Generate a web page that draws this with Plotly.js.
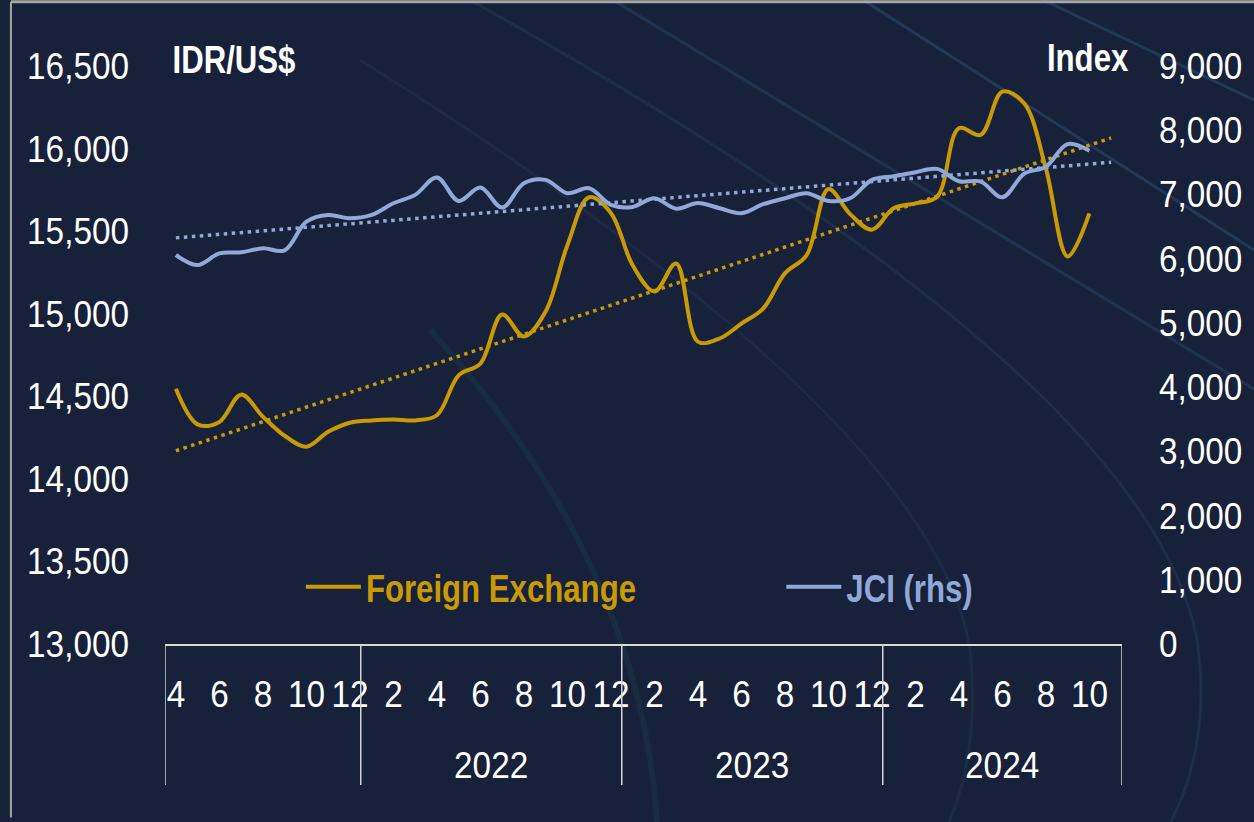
<!DOCTYPE html>
<html>
<head>
<meta charset="utf-8">
<script src="https://cdn.plot.ly/plotly-3.0.1.min.js"></script>
<style>
html,body{margin:0;padding:0;background:#172139;}
#chart{width:1254px;height:822px;}
</style>
</head>
<body>
<div id="chart"></div>
<script>
// ---- data (monthly, Apr 2021 – Nov 2024 axis; data to Oct 2024) ----
const years  = [2021,2021,2021,2021,2021,2021,2021,2021,2021,
                2022,2022,2022,2022,2022,2022,2022,2022,2022,2022,2022,2022,
                2023,2023,2023,2023,2023,2023,2023,2023,2023,2023,2023,2023,
                2024,2024,2024,2024,2024,2024,2024,2024,2024,2024,2024];
const months = [4,5,6,7,8,9,10,11,12,
                1,2,3,4,5,6,7,8,9,10,11,12,
                1,2,3,4,5,6,7,8,9,10,11,12,
                1,2,3,4,5,6,7,8,9,10,11];
const yearLabels = {2022:"2022", 2023:"2023", 2024:"2024"};

const fx = [14546,14330,14345,14510,14377,14261,14195,14285,14340,
            14354,14360,14354,14385,14627,14698,14995,14862,15013,15415,15705,15610,
            15294,15135,15304,14831,14850,14940,15031,15244,15355,15755,15603,15509,
            15638,15668,15708,16123,16083,16345,16274,15880,15347,15608];
const jci = [6057,5901,6083,6099,6161,6130,6577,6681,6629,
             6681,6863,6993,7264,6899,7108,6796,7175,7227,7019,7097,6837,
             6806,6941,6778,6868,6785,6707,6848,6941,7019,6899,6941,7227,
             7284,7347,7398,7206,7201,6957,7323,7432,7783,7679];

const fxName  = "Foreign Exchange";
const jciName = "JCI (rhs)";
const leftTitle = "IDR/US$";
const rightTitle = "Index";
const fxColor  = "#C99A06";
const jciColor = "#91A9D8";

// ---- derived ----
const nCat = months.length;
const idx = months.map((_, i) => i);
const xData = fx.map((_, i) => i);

function linTrend(vals, n) {
  const m = vals.length;
  let sx=0, sy=0, sxx=0, sxy=0;
  vals.forEach((v,i)=>{sx+=i; sy+=v; sxx+=i*i; sxy+=i*v;});
  const b = (m*sxy - sx*sy)/(m*sxx - sx*sx);
  const a = (sy - b*sx)/m;
  return Array.from({length:n},(_,i)=>a+b*i);
}
const fxTrend = linTrend(fx, nCat);
const jciTrend = linTrend(jci, nCat);

const tickvals = idx.filter(i => months[i] % 2 === 0);
const ticktext = tickvals.map(i => String(months[i]));

// year group boundaries
const bounds = [-0.5];
for (let i = 1; i < nCat; i++) if (years[i] !== years[i-1]) bounds.push(i - 0.5);
bounds.push(nCat - 0.5);

const fam = "'Liberation Sans', Arial, sans-serif";
const SQUEEZE_REG = 0.9;    // emulate narrow face
const SQUEEZE_BOLD = 0.82;

const M = {l:165, r:132, t:66, b:178}, W = 1254, H = 822;
const PW = W - M.l - M.r, PH = H - M.t - M.b;
// background decoration path helper (pixel -> paper)
function pp(x, y) { return ((x - M.l)/PW).toFixed(4) + ' ' + ((H - M.b - y)/PH).toFixed(4); }

const shapes = bounds.map(b => ({
  type:'line', xref:'x', yref:'paper', x0:b, x1:b, y0:0, y1:-0.244,
  line:{color:'#d4d4d4', width:1.5}
}));
const deco = [
  {d:'M '+pp(1043,0)+' L '+pp(1254,100), c:'rgba(60,118,170,0.28)', w:3},
  {d:'M '+pp(863,0)+' L '+pp(1254,250), c:'rgba(60,118,170,0.28)', w:3},
  {d:'M '+pp(613,0)+' L '+pp(1254,389), c:'rgba(60,118,170,0.22)', w:3},
  {d:'M '+pp(470,0)+' Q '+pp(1150,380)+' '+pp(1197,640)+' Q '+pp(1212,740)+' '+pp(1171,822), c:'rgba(60,118,170,0.15)', w:3},
  {d:'M '+pp(360,60)+' Q '+pp(935,420)+' '+pp(970,650)+' Q '+pp(980,750)+' '+pp(949,822), c:'rgba(60,118,170,0.11)', w:3},
  {d:'M '+pp(430,330)+' Q '+pp(640,560)+' '+pp(657,822), c:'rgba(35,115,110,0.14)', w:6}
];
deco.forEach(s => shapes.push({type:'path', xref:'paper', yref:'paper', layer:'below',
  path:s.d, line:{color:s.c, width:s.w}}));
// frame
shapes.push({type:'line', xref:'paper', yref:'paper', x0:-0.161, x1:1.2, y0:1.111, y1:1.111, line:{color:'#a6a6a6', width:3}});
shapes.push({type:'line', xref:'paper', yref:'paper', x0:-0.161, x1:-0.161, y0:1.111, y1:-0.3, line:{color:'#a6a6a6', width:2}});

const annotations = [];
for (let g = 0; g < bounds.length-1; g++) {
  const start = Math.ceil(bounds[g]);
  const yr = years[start];
  if (yearLabels[yr]) {
    annotations.push({xref:'x', yref:'paper', x:(bounds[g]+bounds[g+1])/2, y:-0.21,
      text:yearLabels[yr], showarrow:false, xanchor:'center', yanchor:'middle',
      font:{family:fam, size:37, color:'#ffffff'}});
  }
}
annotations.push({xref:'paper', yref:'paper', x:-0.0081, y:1.01, xanchor:'left', yanchor:'middle',
  text:'<b>'+leftTitle+'</b>', showarrow:false, font:{family:fam, size:38, color:'#ffffff'}});
annotations.push({xref:'paper', yref:'paper', x:1.0182, y:1.013, xanchor:'right', yanchor:'middle',
  text:'<b>'+rightTitle+'</b>', showarrow:false, font:{family:fam, size:38, color:'#ffffff'}});

const traces = [
  {x:idx, y:fxTrend, yaxis:'y', mode:'lines', showlegend:false, hoverinfo:'skip',
   line:{color:fxColor, width:3.5, dash:'3.5px,4.5px'}},
  {x:idx, y:jciTrend, yaxis:'y2', mode:'lines', showlegend:false, hoverinfo:'skip',
   line:{color:jciColor, width:3.5, dash:'3.5px,4.5px'}},
  {x:xData, y:fx, yaxis:'y', mode:'lines', legend:'legend',
   name:'<b><span style="color:'+fxColor+'">'+fxName+'</span></b>',
   line:{color:fxColor, width:4, shape:'spline', smoothing:1}},
  {x:xData, y:jci, yaxis:'y2', mode:'lines', legend:'legend2',
   name:'<b><span style="color:'+jciColor+'">'+jciName+'</span></b>',
   line:{color:jciColor, width:4, shape:'spline', smoothing:1}}
];

const legendBase = {orientation:'h', y:0.0986, xanchor:'left', yanchor:'middle',
  bgcolor:'rgba(0,0,0,0)', font:{family:fam, size:38, color:'#ffffff'}, itemwidth:55};

const layout = {
  width:W, height:H,
  paper_bgcolor:'#172139', plot_bgcolor:'rgba(0,0,0,0)',
  margin:M,
  showlegend:true,
  legend:Object.assign({}, legendBase, {x:0.142}),
  legend2:Object.assign({}, legendBase, {x:0.644}),
  xaxis:{range:[-0.5, nCat-0.5], tickmode:'array', tickvals:tickvals, ticktext:ticktext,
    showgrid:false, zeroline:false, showline:true, linecolor:'#d9d9d9', linewidth:2,
    ticks:'', ticklabelstandoff:17, tickangle:0,
    tickfont:{family:fam, size:37, color:'#ffffff'}},
  yaxis:{range:[13000,16500], dtick:500, tickformat:',d', showgrid:false, zeroline:false,
    showline:false, ticks:'', ticklabelstandoff:35,
    tickfont:{family:fam, size:37, color:'#ffffff'}},
  yaxis2:{range:[0,9000], dtick:1000, tickformat:',d', overlaying:'y', side:'right',
    showgrid:false, zeroline:false, showline:false, ticks:'', ticklabelstandoff:36,
    tickfont:{family:fam, size:37, color:'#ffffff'}},
  shapes:shapes,
  annotations:annotations
};

function condense() {
  document.querySelectorAll('#chart text').forEach(t => {
    const len = t.getComputedTextLength();
    if (len > 0) {
      const bold = /bold/.test(t.innerHTML) || /bold/.test(t.getAttribute('style')||'');
      t.setAttribute('textLength', (len * (bold ? SQUEEZE_BOLD : SQUEEZE_REG)).toFixed(1));
      t.setAttribute('lengthAdjust', 'spacingAndGlyphs');
    }
  });
}

Plotly.newPlot('chart', traces, layout, {staticPlot:true, displayModeBar:false}).then(condense);
</script>
</body>
</html>
